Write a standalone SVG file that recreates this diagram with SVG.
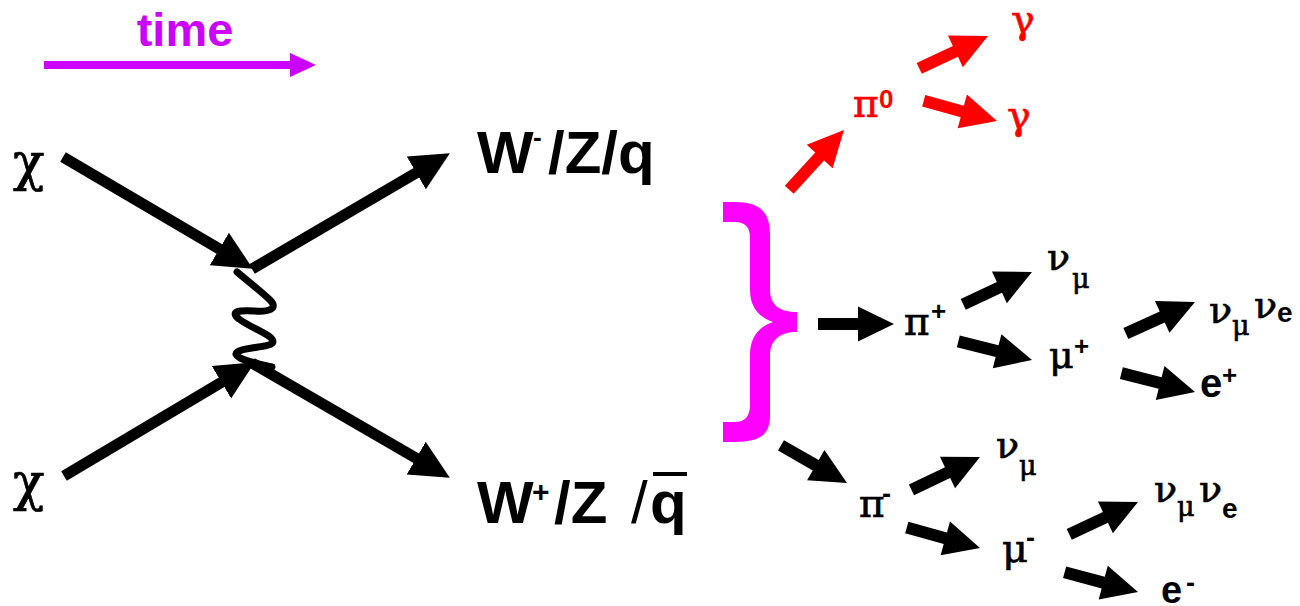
<svg xmlns="http://www.w3.org/2000/svg" xmlns:xlink="http://www.w3.org/1999/xlink" width="1300" height="606" viewBox="0 0 1300 606">
  <style>
    .greek { font-family: "DejaVu Serif", "Liberation Serif", serif; stroke: #000; stroke-width: 0.7; }
    .redt .greek { stroke: #ff0000; }
    .sans { font-family: "Liberation Sans", Arial, sans-serif; font-weight: bold; }
    .blk { fill: #000; }
    .red { fill: #ff0000; }
    .line { stroke: #000; stroke-width: 11; fill: none; }
  </style>
  <defs>
    <!-- block arrow, tip at origin pointing along +x -->
    <path id="blk" d="M0,0 L-36,-17.5 L-36,-6 L-76,-6 L-76,6 L-36,6 L-36,17.5 Z"/>
    <path id="blkL" d="M0,0 L-36,-17.5 L-36,-6 L-81,-6 L-81,6 L-36,6 L-36,17.5 Z"/>
    <marker id="head" markerUnits="userSpaceOnUse" markerWidth="40" markerHeight="40" viewBox="0 -18 36 36" refX="5" refY="0" orient="auto">
      <path d="M0,-17 L35,0 L0,17 Z" fill="#000"/>
    </marker>
  </defs>

  <!-- time axis -->
  <g id="time">
    <text class="sans" x="185" y="46" font-size="47" fill="#cc00ff" text-anchor="middle">time</text>
    <line x1="44" y1="65" x2="293" y2="65" stroke="#cc00ff" stroke-width="8"/>
    <polygon points="290,53 316,65 290,77" fill="#cc00ff"/>
  </g>

  <!-- connectors -->
  <g id="connectors">
    <line class="line" x1="63" y1="157" x2="224.1" y2="251.8" marker-end="url(#head)"/>
    <line class="line" x1="64" y1="476" x2="226.2" y2="379.4" marker-end="url(#head)"/>
    <line class="line" x1="252" y1="269" x2="421.1" y2="170.1" marker-end="url(#head)"/>
    <line class="line" x1="252" y1="363" x2="421" y2="461" marker-end="url(#head)"/>
    <path d="M237,272 C249,282 262,292 270,300 C279,309 268,312 255,311 C240,310 229,311 239,319 C250,327 262,331 270,337 C279,345 266,346 252,348 C238,350 231,353 240,358 C248,362 260,364 272,367" stroke="#000" stroke-width="7" fill="none" stroke-linecap="round"/>

    <!-- brace grouping the decay products -->
    <path d="M723,202 L735,202 C760,202 770,212 770,235 L770,290 C770,305 780,312 797,312 L797,332 C780,332 770,340 770,355 L770,415 C770,435 760,442 735,442 L723,442 L723,422 L735,422 C745,422 750,416 750,405 L750,355 C750,338 758,327 773,322 C758,317 750,306 750,290 L750,238 C750,227 745,222 735,222 L723,222 Z" fill="#ff00ff"/>

    <!-- neutral pion branch -->
    <use xlink:href="#blkL" class="red" transform="translate(844,130) rotate(-47.5)"/>
    <use xlink:href="#blk" class="red" transform="translate(988,36) rotate(-25.2)"/>
    <use xlink:href="#blk" class="red" transform="translate(997,121) rotate(15.4)"/>

    <!-- positive pion branch -->
    <use xlink:href="#blk" class="blk" transform="translate(894,324)"/>
    <use xlink:href="#blk" class="blk" transform="translate(1032,272) rotate(-25.2)"/>
    <use xlink:href="#blk" class="blk" transform="translate(1032,360) rotate(14.2)"/>
    <use xlink:href="#blk" class="blk" transform="translate(1195,302) rotate(-24.5)"/>
    <use xlink:href="#blk" class="blk" transform="translate(1195,392) rotate(14.4)"/>

    <!-- negative pion branch -->
    <use xlink:href="#blk" class="blk" transform="translate(847,483) rotate(29.7)"/>
    <use xlink:href="#blk" class="blk" transform="translate(980,457) rotate(-25.6)"/>
    <use xlink:href="#blk" class="blk" transform="translate(980,548) rotate(15.6)"/>
    <use xlink:href="#blk" class="blk" transform="translate(1138,502) rotate(-25.2)"/>
    <use xlink:href="#blk" class="blk" transform="translate(1138,592) rotate(15.1)"/>
  </g>

  <!-- incoming particles -->
  <g id="chi1"><text class="greek" x="13" y="180" font-size="52">χ</text></g>
  <g id="chi2"><text class="greek" x="13" y="500" font-size="52">χ</text></g>

  <!-- outgoing bosons / quarks -->
  <g id="wminus">
    <text class="sans" y="173" font-size="60"><tspan x="477">W</tspan><tspan x="533" y="146" font-size="26">-</tspan><tspan x="548" y="173">/Z/q</tspan></text>
  </g>
  <g id="wplus">
    <text class="sans" y="523" font-size="60"><tspan x="477">W</tspan><tspan x="532" y="502" font-size="30">+</tspan><tspan x="554" y="523">/Z</tspan><tspan x="631" font-weight="normal">/</tspan><tspan x="650">q</tspan></text>
    <rect x="653" y="472" width="34" height="4" fill="#000"/>
  </g>

  <!-- neutral pion and photons -->
  <g id="pi0" class="redt" fill="#ff0000">
    <text class="greek" x="853" y="117" font-size="39">π</text>
    <text class="sans" x="879" y="108" font-size="26">0</text>
  </g>
  <g id="gamma1" class="redt" fill="#ff0000"><text class="greek" x="1011" y="33" font-size="40">γ</text></g>
  <g id="gamma2" class="redt" fill="#ff0000"><text class="greek" x="1007" y="129" font-size="40">γ</text></g>

  <!-- positive pion chain -->
  <g id="piplus">
    <text class="greek" x="904" y="335" font-size="39">π</text>
    <text class="sans" x="931" y="320" font-size="26">+</text>
  </g>
  <g id="numu1">
    <text class="greek" x="1047" y="270" font-size="38">ν</text>
    <text class="greek" x="1072" y="288" font-size="27">μ</text>
  </g>
  <g id="muplus">
    <text class="greek" x="1049" y="368" font-size="38">μ</text>
    <text class="sans" x="1074" y="355" font-size="26">+</text>
  </g>
  <g id="nunu1">
    <text class="greek" x="1209" y="323" font-size="38">ν</text>
    <text class="greek" x="1232" y="335" font-size="27">μ</text>
    <text class="greek" x="1254" y="318" font-size="38">ν</text>
    <text class="sans" x="1277" y="322" font-size="28">e</text>
  </g>
  <g id="eplus">
    <text class="sans" x="1200" y="397" font-size="40">e</text>
    <text class="sans" x="1222" y="384" font-size="26">+</text>
  </g>

  <!-- negative pion chain -->
  <g id="piminus">
    <text class="greek" x="859" y="517" font-size="39">π</text>
    <text class="sans" x="882" y="503" font-size="27">-</text>
  </g>
  <g id="numu2">
    <text class="greek" x="996" y="458" font-size="38">ν</text>
    <text class="greek" x="1019" y="475" font-size="27">μ</text>
  </g>
  <g id="muminus">
    <text class="greek" x="1002" y="562" font-size="40">μ</text>
    <text class="sans" x="1026" y="547" font-size="27">-</text>
  </g>
  <g id="nunu2">
    <text class="greek" x="1154" y="502" font-size="38">ν</text>
    <text class="greek" x="1177" y="516" font-size="27">μ</text>
    <text class="greek" x="1199" y="502" font-size="38">ν</text>
    <text class="sans" x="1222" y="518" font-size="28">e</text>
  </g>
  <g id="eminus">
    <text class="sans" x="1161" y="603" font-size="38">e</text>
    <text class="sans" x="1186" y="592" font-size="27">-</text>
  </g>
</svg>
